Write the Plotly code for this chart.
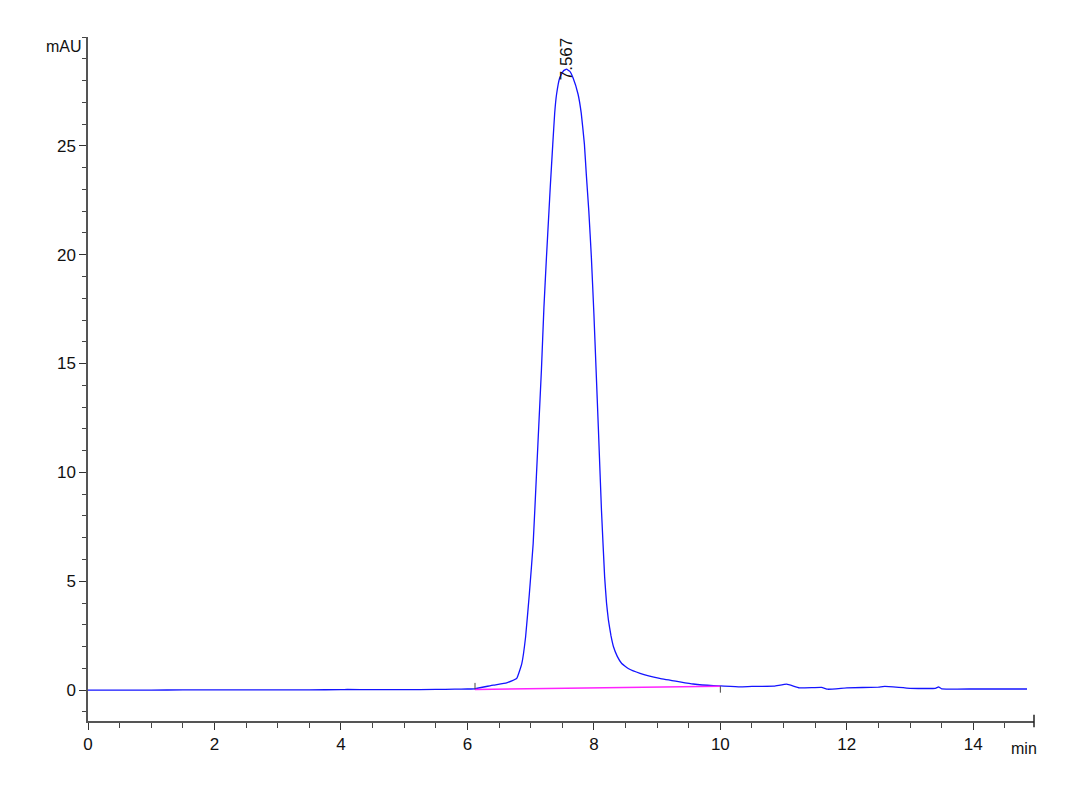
import plotly.graph_objects as go

# Chromatogram trace (retention time in min, absorbance in mAU)
time_min = [0.0, 0.5, 1.0, 1.5, 2.0, 2.5, 3.0, 3.5, 4.0, 4.1, 4.5, 5.0, 5.5, 5.8, 6.0, 6.12,
            6.41, 6.62, 6.78, 6.86, 6.92, 6.98, 7.04, 7.09, 7.14, 7.17, 7.21, 7.25, 7.29,
            7.31, 7.35, 7.38, 7.41, 7.46, 7.52, 7.567, 7.62, 7.67, 7.75, 7.80, 7.85, 7.88,
            7.92, 7.96, 8.00, 8.035, 8.07, 8.12, 8.17, 8.20, 8.23, 8.27, 8.31, 8.37,
            8.44, 8.55, 8.73, 9.04, 9.36, 9.57, 9.89, 10.0, 10.31,
            10.5, 10.85, 11.05, 11.25, 11.6, 11.7, 12.0, 12.5, 12.6, 13.0, 13.4, 13.45,
            13.5, 14.0, 14.5, 14.85]
absorbance = [0.0, 0.0, 0.0, 0.01, 0.01, 0.01, 0.01, 0.01, 0.02, 0.03, 0.02, 0.02, 0.03, 0.04, 0.05, 0.06,
              0.23, 0.33, 0.54, 1.22, 2.44, 4.44, 6.73, 9.78, 12.84, 14.68, 17.58, 19.88, 22.02,
              23.10, 25.08, 26.50, 27.37, 28.13, 28.45, 28.52, 28.42, 28.13, 27.37, 26.50, 25.08, 23.70,
              22.00, 19.90, 17.30, 14.70, 12.10, 8.26, 5.20, 4.00, 3.21, 2.50, 1.99, 1.55,
              1.22, 0.98, 0.77, 0.54, 0.38, 0.28, 0.20, 0.19, 0.15,
              0.17, 0.18, 0.27, 0.10, 0.12, 0.04, 0.10, 0.14, 0.17, 0.08, 0.08, 0.15,
              0.06, 0.05, 0.05, 0.05]

# Integration baseline
baseline_time = [6.12, 10.0]
baseline_value = [0.03, 0.18]

# Peak annotation
peak_time = 7.567
peak_label = "7.567"

x_ticks = [0, 2, 4, 6, 8, 10, 12, 14]
y_ticks = [0, 5, 10, 15, 20, 25]

FONT = "Liberation Sans, Arial"
OFF = 8  # page body margin
W, H = 1080 - OFF, 792 - OFF
L, R, T, B = 88 - OFF, 46, 37 - OFF, 71
PW, PH = W - L - R, H - T - B


def px(xp):
    return (xp - OFF - L) / PW


def py(yp):
    return (H - (yp - OFF) - B) / PH


fig = go.Figure()
fig.add_trace(go.Scatter(x=time_min, y=absorbance, mode="lines", line_shape="spline",
                         line=dict(color="#1414ff", width=1.3, smoothing=0.3),
                         showlegend=False, hoverinfo="skip"))
fig.add_trace(go.Scatter(x=baseline_time, y=baseline_value, mode="lines",
                         line=dict(color="#ff22ff", width=1.5), showlegend=False, hoverinfo="skip"))

# integration start/end markers
fig.add_shape(type="line", xref="x", yref="y", x0=baseline_time[0], x1=baseline_time[0],
              y0=baseline_value[0], y1=baseline_value[0] + 0.3, line=dict(color="#444", width=1))
fig.add_shape(type="line", xref="x", yref="y", x0=baseline_time[1], x1=baseline_time[1],
              y0=baseline_value[1], y1=baseline_value[1] - 0.3, line=dict(color="#444", width=1))
# end cap of x axis
fig.add_shape(type="line", xref="x domain", yref="y domain", x0=1, x1=1, y0=-0.009, y1=0.009,
              line=dict(color="#222", width=1.5))

fig.add_annotation(x=peak_time, y=29.0, xref="x", yref="y", text=peak_label, textangle=-90,
                   showarrow=False, xanchor="center", yanchor="middle",
                   font=dict(family=FONT, size=17, color="#111"))
fig.add_annotation(x=px(64), y=py(47), xref="paper", yref="paper",
                   text="mAU", showarrow=False, xanchor="center", yanchor="middle",
                   font=dict(family=FONT, size=16, color="#111"))
fig.add_annotation(x=px(1024), y=py(748), xref="paper", yref="paper",
                   text="min", showarrow=False, xanchor="center", yanchor="middle",
                   font=dict(family=FONT, size=16, color="#111"))

fig.update_layout(
    width=W, height=H,
    margin=dict(l=L, r=R, t=T, b=B, autoexpand=False),
    plot_bgcolor="white", paper_bgcolor="white",
    font=dict(family=FONT, size=17, color="#111"),
    xaxis=dict(range=[0, 14.96], tickvals=x_ticks, showgrid=False, zeroline=False,
               showline=True, linecolor="#555", linewidth=1.5,
               ticks="outside", ticklen=7, tickcolor="#333", tickwidth=1.2,
               minor=dict(dtick=0.5, tick0=0, ticks="outside", ticklen=5, tickcolor="#444"),
               tickfont=dict(size=17)),
    yaxis=dict(range=[-1.42, 30], tickvals=y_ticks, showgrid=False, zeroline=False,
               showline=True, linecolor="#555", linewidth=1.5,
               ticks="outside", ticklen=7, tickcolor="#333", tickwidth=1.2,
               minor=dict(dtick=1, tick0=0, ticks="outside", ticklen=4, tickcolor="#444"),
               tickfont=dict(size=17)),
)

fig.write_html("out.html")
